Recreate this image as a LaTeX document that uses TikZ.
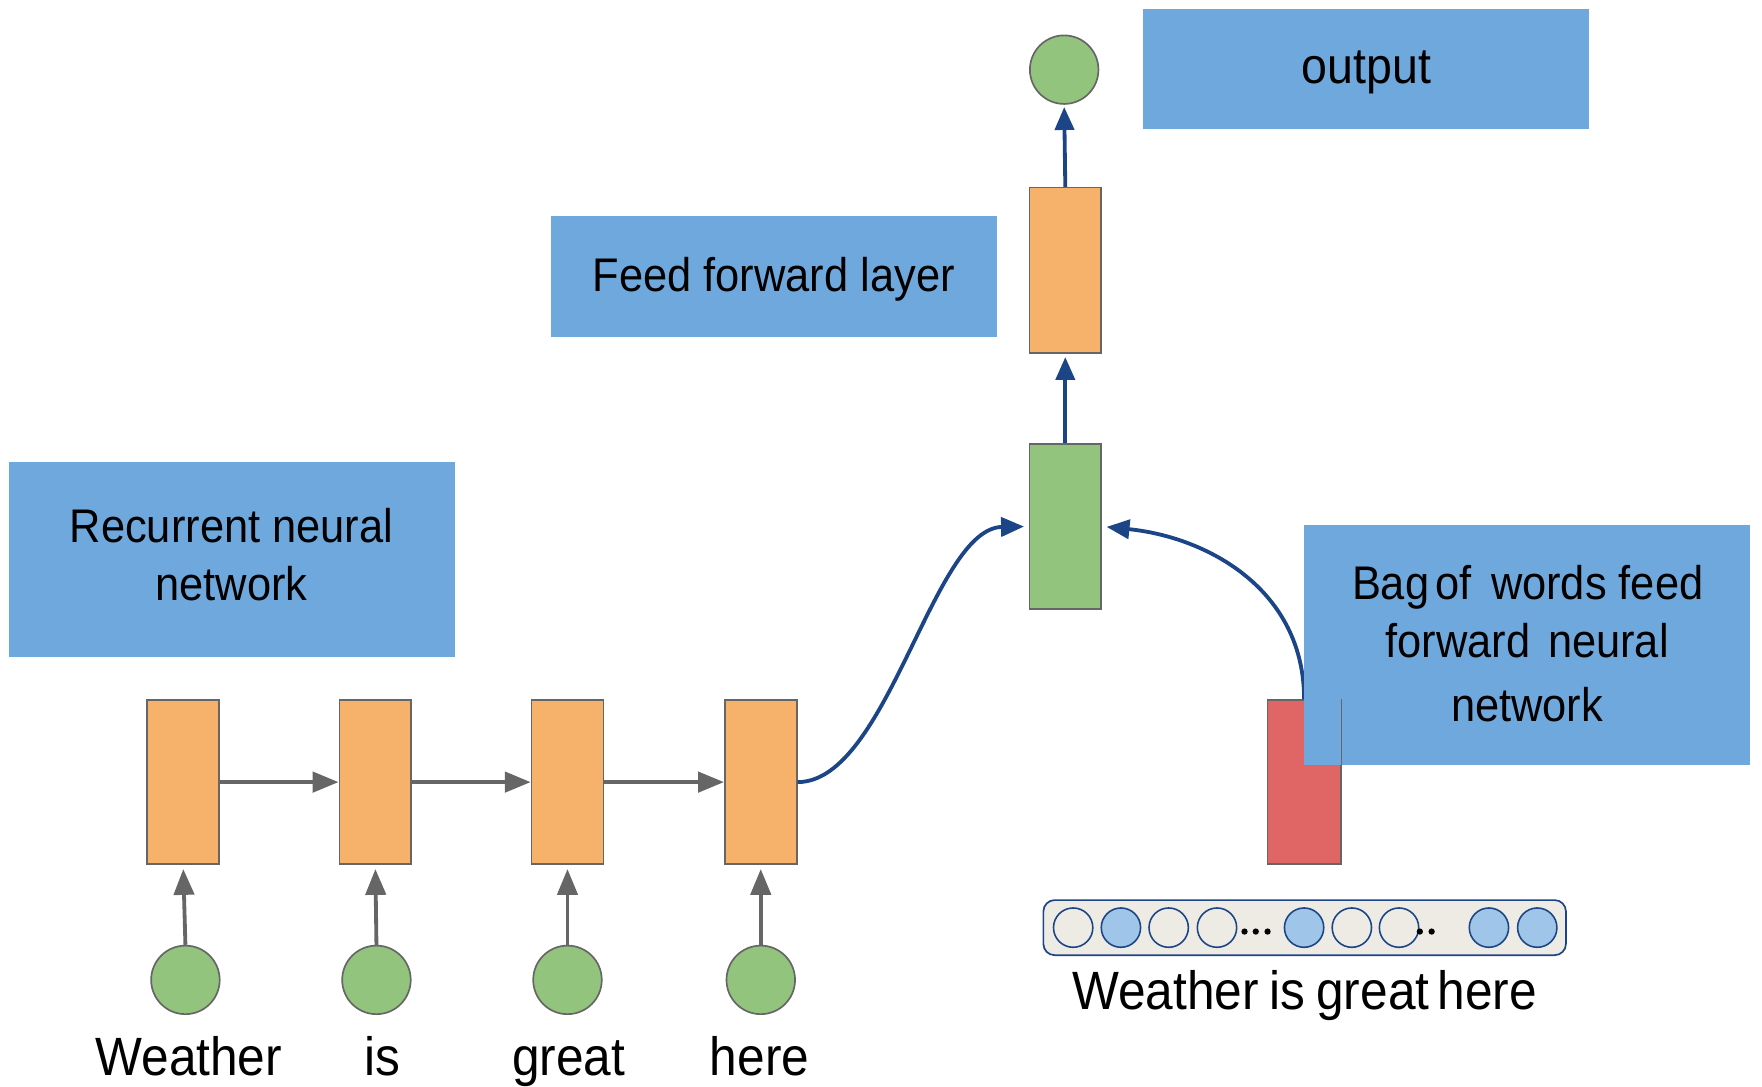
\documentclass[tikz,border=0pt]{standalone}
\usepackage{fontspec}
\setmainfont[FakeStretch=0.92]{Liberation Sans}
\usetikzlibrary{arrows.meta}

\definecolor{lblue}{HTML}{6FA8DC}
\definecolor{orangebox}{HTML}{F6B26B}
\definecolor{greenbox}{HTML}{93C47D}
\definecolor{redbox}{HTML}{E06666}
\definecolor{edgegray}{HTML}{666666}
\definecolor{navy}{HTML}{1C4587}
\definecolor{vecfill}{HTML}{EDEBE3}
\definecolor{onebit}{HTML}{9FC5E8}

\tikzset{
  bluelabel/.style={fill=lblue, minimum width=198.5pt, inner sep=0pt},
  labeltext/.style={font=\fontsize{21}{26}\selectfont, anchor=base, inner sep=0pt},
  cell/.style={draw=edgegray, line width=0.75pt, minimum width=32pt, minimum height=73pt, inner sep=0pt},
  unit/.style={circle, draw=edgegray, line width=0.75pt, fill=greenbox, minimum size=30.5pt, inner sep=0pt},
  word/.style={font=\fontsize{24}{28}\selectfont, anchor=base, inner sep=0pt},
  grayarrow/.style={draw=edgegray, line width=1.7pt, -{Triangle[length=11.5pt,width=9pt]}},
  bluearrow/.style={draw=navy, line width=1.7pt, -{Triangle[length=10.2pt,width=8.5pt]}},
  bit/.style={circle, draw=navy, line width=0.7pt, minimum size=17.5pt, inner sep=0pt, fill=vecfill},
  setbit/.style={bit, fill=onebit},
  dotmark/.style={fill=black},
}

\begin{document}
\begin{tikzpicture}[x=0.5pt, y=-0.5pt]
\useasboundingbox (0,0) rectangle (1568,967);

% ---- labels
\node[bluelabel, minimum height=87pt] (rnnlab) at (206.5,498) {};
\node[labeltext] (rnntext1) at (206,483) {Recurrent neural};
\node[labeltext] (rnntext2) at (206,534.5) {network};

\node[bluelabel, minimum height=54pt] (fflab) at (688.5,246) {};
\node[labeltext] (fftext) at (688.5,259.6) {Feed forward layer};

\node[bluelabel, minimum height=53.5pt] (outlab) at (1215.5,61.5) {};
\node[labeltext, font=\fontsize{22.5}{26}\selectfont] (outtext) at (1216,74) {output};

% ---- recurrent chain
\foreach \i/\x in {1/163, 2/334, 3/505, 4/677} {
  \node[cell, fill=orangebox] (r\i) at (\x,696) {};
}
\foreach \i/\x in {1/165, 2/335, 3/505, 4/677} {
  \node[unit] (x\i) at (\x,872) {};
}
\node[word] (w1) at (168,957) {Weather};
\node[word] (w2) at (340,957) {is};
\node[word] (w3) at (506,957) {great};
\node[word] (w4) at (676,957) {here};

\foreach \a/\b in {1/2, 2/3, 3/4} {
  \draw[grayarrow] (r\a.east) -- (r\b.west);
}
\foreach \i in {1,...,4} {
  \draw[grayarrow, shorten >=1.8pt] (x\i.north) -- (r\i.south);
}

% ---- combined hidden layer, feed forward layer and output
\node[cell, fill=greenbox, minimum height=73.5pt] (hid) at (948,468.5) {};
\node[cell, fill=orangebox, minimum height=73.5pt] (ff) at (948,240.5) {};
\node[unit] (out) at (947,62) {};

\draw[bluearrow, shorten >=1.5pt] (hid.north) -- (ff.south);
\draw[bluearrow, shorten >=1pt] (ff.north) -- (out.south);

\draw[bluearrow, shorten >=2pt] (r4.east) .. controls (790,696) and (830,470) .. (hid.west);

% ---- bag of words branch
\node[cell, fill=redbox, minimum width=32.5pt] (bow) at (1160.5,696) {};
\draw[bluearrow, shorten >=2pt] (bow.north) .. controls (1160.5,525) and (1075,478) .. (hid.east);
\node[bluelabel, minimum height=107pt] (bowlab) at (1358.5,574) {};
\node[labeltext] (bowtext1) at (1359.5,533.4) {Bag\hspace{-0.12em} of\hspace{0.15em} words feed};
\node[labeltext] (bowtext2) at (1359,585) {forward\hspace{0.12em} neural};
\node[labeltext] (bowtext3) at (1359,642) {network};
\draw[edgegray, line width=0.75pt] (bow.north east) -- (bow.south east);

% ---- bag of words vector
\node[draw=navy, fill=vecfill, rounded corners=5pt, line width=0.75pt,
      minimum width=232.5pt, minimum height=24.5pt, inner sep=0pt] (vec) at (1161,825.5) {};
\node[bit]    (b1) at (955,825.5) {};
\node[setbit] (b2) at (997.5,825.5) {};
\node[bit]    (b3) at (1040,825.5) {};
\node[bit]    (b4) at (1083,825.5) {};
\node[setbit] (b5) at (1160.5,825.5) {};
\node[bit]    (b6) at (1203,825.5) {};
\node[bit]    (b7) at (1245,825.5) {};
\node[setbit] (b8) at (1325,825.5) {};
\node[setbit] (b9) at (1368,825.5) {};
\foreach \x in {1107.5,1117.5,1128,1263.5,1274} {
  \fill[dotmark] (\x,829) circle (1.4pt);
}
\node[word] (vecword) at (1161,898)
  {Weather\hspace{0.2em}is\hspace{0.2em}great\hspace{0.15em}here};

\end{tikzpicture}
\end{document}
